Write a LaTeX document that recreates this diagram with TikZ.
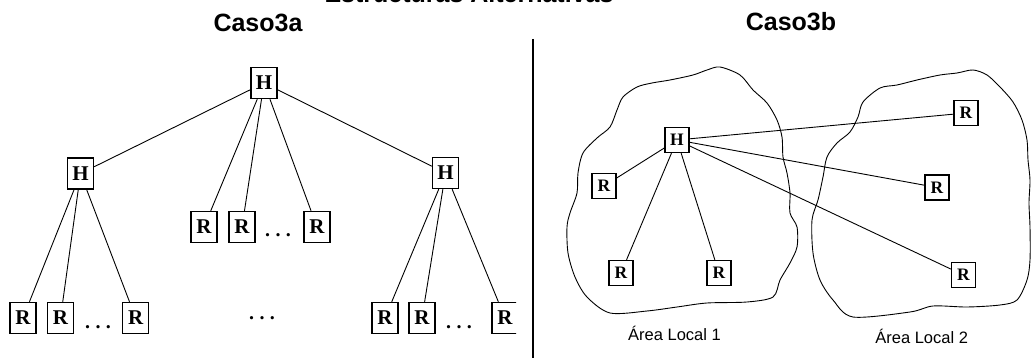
\documentclass[tikz,border=0pt]{standalone}
\usepackage{fontspec}
\setmainfont{Liberation Serif}
\newfontfamily\arialfont{Liberation Sans}

\newcommand{\puntitos}{.\kern5.3pt.\kern5.3pt.}

\tikzset{
  nodo/.style={draw, line width=1.4pt, fill=white, inner sep=0pt, minimum width=26pt, minimum height=31pt,
    font=\fontsize{21}{21}\selectfont\bfseries},
  nodob/.style={draw, line width=1.3pt, fill=white, inner sep=0pt, minimum width=24pt, minimum height=25pt,
    font=\fontsize{17.5}{17.5}\selectfont\bfseries},
  puntos/.style={anchor=base, inner sep=0pt, font=\fontsize{20}{20}\selectfont\bfseries},
  titulo/.style={anchor=base, inner sep=0pt, font=\arialfont\bfseries\fontsize{25}{25}\selectfont},
  area/.style={anchor=base, inner sep=0pt, font=\arialfont\fontsize{16.5}{16.5}\selectfont},
}

\begin{document}
\begin{tikzpicture}[x=1pt, y=-1pt, line width=0.9pt]

      \useasboundingbox (0,0) rectangle (1031,358);

      \node[titulo] (tit) at (469,2.7) {Estructuras Alternativas};
      \node[titulo] (ta)  at (258,31.5) {Caso3a};
      \node[titulo] (tb)  at (791,31) {Caso3b};

      \coordinate (div1) at (533,39);
      \coordinate (div2) at (533,358);
      \draw[line width=1.3pt] (div1) -- (div2);

      \draw plot[smooth cycle, tension=0.5] coordinates {
        (720,67) (740,75) (753,90) (767,103) (777,120) (782,137) (783,157) (787,173)
        (790,193) (790,213) (797,227) (797,247) (790,263) (780,280) (773,297) (747,302)
        (707,303) (677,307) (647,311) (610,313) (587,297) (575,277) (568,253) (567,227)
        (570,213) (577,193) (578,173) (583,153) (597,138) (610,127) (617,110) (623,97)
        (637,87) (652,83) (670,80) (693,75) (707,70)};
      \draw plot[smooth cycle, tension=0.5] coordinates {
        (973,70) (987,75) (1000,87) (1013,102) (1022,120) (1027,140) (1028,160) (1030,180)
        (1029,203) (1030,227) (1030,260) (1027,280) (1017,300) (1000,305) (967,307) (933,306)
        (910,312) (853,317) (833,300) (820,280) (813,253) (812,220) (818,200) (823,177)
        (827,157) (837,143) (850,132) (858,117) (863,102) (880,88) (897,85) (917,80)
        (940,75) (957,73)};

      \begin{scope}[every node/.style=nodo]
        \node (h0) at (264,83)     {H};
        \node (h1) at (80.5,173.5) {H};
        \node (h2) at (445.5,173)  {H};
        \node (r1) at (204,227)    {R};
        \node (r2) at (242,227)    {R};
        \node (r3) at (317,227)    {R};
        \node (r4) at (23,318)     {R};
        \node (r5) at (60.5,318)   {R};
        \node (r6) at (135.7,318)  {R};
        \node (r7) at (385,318)    {R};
        \node (r8) at (422,318)    {R};
      \end{scope}

      \begin{scope}
        \clip (480,290) rectangle (516,345);
        \node[nodo] (r9) at (505,318) {R};
      \end{scope}

      \node[puntos] (d1) at (278,236.5) {\puntitos};
      \node[puntos] (d2) at (98,328.5)  {\puntitos};
      \node[puntos] (d3) at (262,319)   {\puntitos};
      \node[puntos] (d4) at (459,328.5) {\puntitos};

      \begin{scope}[every node/.style=nodob]
        \node (hb) at (677,140)     {H};
        \node (s1) at (604,186)     {R};
        \node (s2) at (621,273)     {R};
        \node (s3) at (719,273)     {R};
        \node (s4) at (966,113)     {R};
        \node (s5) at (937,187.5)   {R};
        \node (s6) at (963.5,275)   {R};
      \end{scope}

      \node[area] (a1) at (674.5,340.7) {Área Local 1};
      \node[area] (a2) at (921.7,343.3) {Área Local 2};

      \begin{scope}[every edge/.style={draw}]
        \path (h0) edge (h1);
        \path (h0) edge (h2);
        \path (h0) edge (r1);
        \path (h0) edge (r2);
        \path (h0) edge (r3);
        \path (h1) edge (r4);
        \path (h1) edge (r5);
        \path (h1) edge (r6);
        \path (h2) edge (r7);
        \path (h2) edge (r8);
        \path (h2) edge (r9);
        \path (hb) edge (s1);
        \path (hb) edge (s2);
        \path (hb) edge (s3);
        \path (hb) edge (s4);
        \path (hb) edge (s5);
        \path (hb) edge (s6);
      \end{scope}

    \end{tikzpicture}
\end{document}
